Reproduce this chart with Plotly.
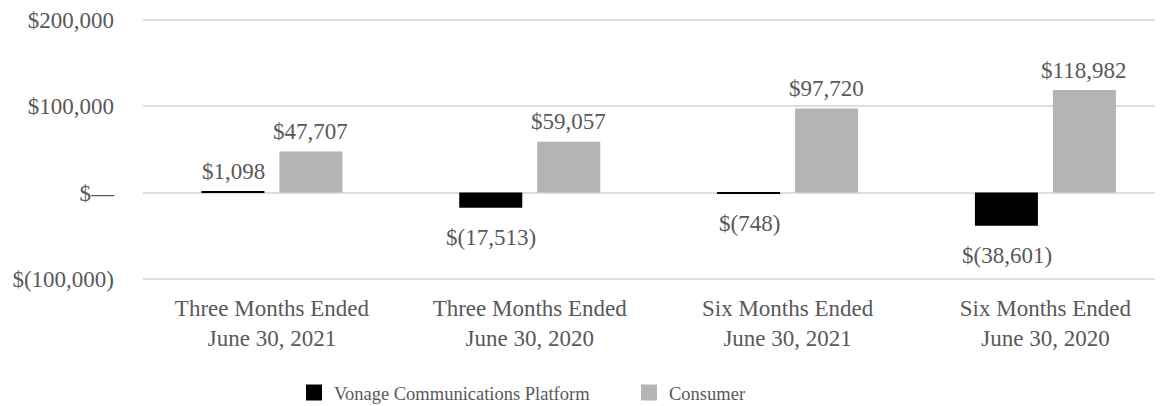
import plotly.graph_objects as go

categories = ["Three Months Ended<br>June 30, 2021", "Three Months Ended<br>June 30, 2020",
              "Six Months Ended<br>June 30, 2021", "Six Months Ended<br>June 30, 2020"]
vcp_values = [1098, -17513, -748, -38601]
consumer_values = [47707, 59057, 97720, 118982]
tick_values = [-100000, 0, 100000, 200000]
tick_labels = ["$(100,000)", "$\u2014", "$100,000", "$200,000"]


def fmt(v):
    return f"${v:,}" if v >= 0 else f"$({-v:,})"


FONT = "Liberation Serif"
TXT = "#595959"
FS = 23

fig = go.Figure()
fig.add_trace(go.Bar(x=categories, y=vcp_values, name="Vonage Communications Platform",
                     marker=dict(color="#000000", line=dict(width=0)),
                     showlegend=False, hoverinfo="y"))
fig.add_trace(go.Bar(x=categories, y=consumer_values, name="Consumer",
                     marker=dict(color="#b4b4b4", line=dict(width=0)),
                     showlegend=False, hoverinfo="y"))
# legend entries
fig.add_trace(go.Scatter(x=[None], y=[None], mode="markers", name="Vonage Communications Platform",
                         marker=dict(symbol="square", size=19, color="#000000")))
fig.add_trace(go.Scatter(x=[None], y=[None], mode="markers", name="Consumer",
                         marker=dict(symbol="square", size=19, color="#b4b4b4")))

# value labels, anchored at each bar's end in data coordinates
annotations = []
for series, shift in ((vcp_values, -38.5), (consumer_values, 38.5)):
    for cat, v in zip(categories, series):
        annotations.append(dict(
            x=cat, y=v, xref="x", yref="y", text=fmt(v), showarrow=False,
            xshift=shift, yshift=20 if v >= 0 else -30, yanchor="middle",
            font=dict(family=FONT, size=FS, color=TXT)))

# page body has an 8px margin, so the figure is sized/offset accordingly
fig.update_layout(
    width=1155, height=398,
    margin=dict(l=135, r=0, t=11, b=126, autoexpand=False),
    paper_bgcolor="white", plot_bgcolor="white",
    barmode="group", bargap=0.395, bargroupgap=0.192,
    font=dict(family=FONT, size=FS, color=TXT),
    annotations=annotations,
    legend=dict(orientation="h", x=286 / 1155, xanchor="left", xref="container",
                y=0.0327, yanchor="middle", yref="container",
                font=dict(family=FONT, size=18.5, color=TXT), itemsizing="trace",
                entrywidth=290, bgcolor="rgba(0,0,0,0)"),
)
fig.update_xaxes(range=[-0.5, 3.456], showgrid=False, showline=False, ticks="",
                 automargin=False, ticklabelstandoff=12,
                 tickfont=dict(family=FONT, size=FS, color=TXT))
fig.update_yaxes(range=[-101500, 201500], tickvals=tick_values, ticktext=tick_labels,
                 showgrid=True, gridcolor="#dedede", gridwidth=1.5,
                 zeroline=True, zerolinecolor="#dedede", zerolinewidth=1.5,
                 showline=False, ticks="", ticklabelstandoff=28, automargin=False,
                 tickfont=dict(family=FONT, size=FS, color=TXT))

fig.write_html("out.html")
